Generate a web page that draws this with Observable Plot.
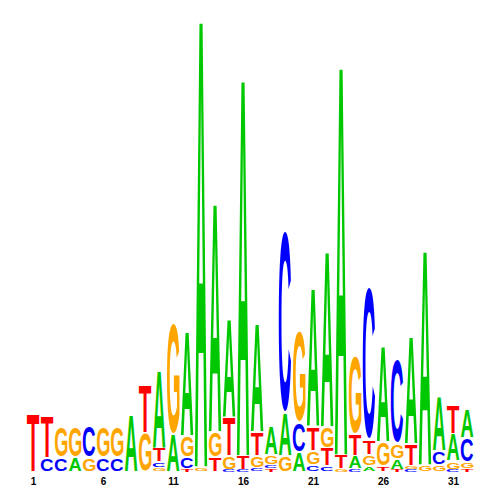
<!DOCTYPE html>
<html><head><meta charset="utf-8">
<script src="https://cdn.jsdelivr.net/npm/d3@7"></script>
<script src="https://cdn.jsdelivr.net/npm/@observablehq/plot@0.6"></script>
<style>body{margin:0;background:#fff;}</style>
</head><body><div id="chart"></div>
<script>
// Sequence logo: information content (bits) of each base at each position
const positions = d3.range(1, 33);
const heightA = [0,0,0,0.0625,0,0,0,0.254,0,0.344,0.165,0.464,1.982,1.013,0.4375,1.670,0.482,0.125,0.1875,0.085,0.612,0.777,1.723,0.058,0.027,0.424,0.049,0.473,0.951,0.241,0.122,0.125];
const heightC = [0,0.0625,0.0625,0,0.143,0.0625,0.0625,0,0,0.027,0,0.054,0,0,0.009,0.009,0.018,0.018,0.821,0.134,0.031,0.027,0,0.013,0.6875,0,0.379,0.009,0,0.0625,0.009,0.107];
const heightG = [0,0,0.138,0.138,0.0625,0.138,0.138,0,0.174,0.018,0.504,0.094,0.022,0.112,0.0625,0,0.054,0.045,0.071,0.415,0.0625,0.094,0.013,0.353,0.049,0.107,0.067,0.018,0.031,0.031,0.040,0.031];
const heightT = [0.259,0.183,0,0,0,0,0,0,0.210,0.0625,0,0.013,0,0.067,0.170,0.0625,0.107,0.013,0,0,0.107,0.080,0.0625,0.098,0.067,0.027,0.009,0.098,0,0,0.128,0.013];
const letters = ["A", "C", "G", "T"];
const letterColors = {A: "#00C800", C: "#0000FF", G: "#FFA500", T: "#FF0000"};
const tickLabels = [1, 6, 11, 16, 21, 26, 31];

const heights = {A: heightA, C: heightC, G: heightG, T: heightT};
const rows = [];
positions.forEach((p, i) => {
  const col = letters.map(l => [l, heights[l][i]]).filter(d => d[1] > 0).sort((a, b) => a[1] - b[1]);
  let y0 = 0;
  for (const [l, h] of col) { rows.push({pos: p, letter: l, y1: y0, y2: y0 + h}); y0 += h; }
});

const chart = Plot.plot({
  width: 500, height: 500,
  marginLeft: 26, marginRight: 26, marginTop: 24, marginBottom: 28,
  x: {domain: [0.5, 32.5]},
  y: {domain: [0, 2], axis: null},
  marks: [
    Plot.rect(rows, {x1: d => d.pos - 0.5, x2: d => d.pos + 0.5, y1: "y1", y2: "y2",
      fill: d => letterColors[d.letter], insetLeft: 0.7, insetRight: 0.7}),
    Plot.axisX(tickLabels, {tickSize: 0, tickPadding: 5, fontSize: 10, fontWeight: "bold", label: null,
      fontFamily: "Liberation Sans, Arial, sans-serif"})
  ]
});
document.getElementById("chart").appendChild(chart);

// Turn each rect into a stretched letter glyph filling the same box
const canvas = document.createElement("canvas");
const ctx = canvas.getContext("2d");
const fontFamily = "'Liberation Sans', Arial, sans-serif";
const FS = 1000;
ctx.font = `bold ${FS}px ${fontFamily}`;
const metrics = {};
for (const l of letters) {
  const m = ctx.measureText(l);
  metrics[l] = {left: m.actualBoundingBoxLeft, right: m.actualBoundingBoxRight,
    ascent: m.actualBoundingBoxAscent, descent: m.actualBoundingBoxDescent};
}
// flat-topped letters (A, T) reach only the cap height: round letters minus their overshoot
const capHeight = metrics.C.ascent - metrics.C.descent;
metrics.A.ascent = capHeight; metrics.A.descent = 0;
metrics.T.ascent = capHeight; metrics.T.descent = 0;

const g = chart.querySelector('g[aria-label="rect"]');
const rectEls = Array.from(g.querySelectorAll("rect"));
const NS = "http://www.w3.org/2000/svg";
rectEls.forEach((r, i) => {
  const d = rows[i];
  const m = metrics[d.letter];
  let x = +r.getAttribute("x"), y = +r.getAttribute("y");
  let w = +r.getAttribute("width"), h = +r.getAttribute("height");
  if (h > 4) { y += 0.9; h -= 1.8; }
  const sx = w / (m.left + m.right), sy = h / (m.ascent + m.descent);
  const t = document.createElementNS(NS, "text");
  t.textContent = d.letter;
  t.setAttribute("font-family", fontFamily);
  t.setAttribute("font-weight", "bold");
  t.setAttribute("font-size", FS);
  t.setAttribute("text-anchor", "start");
  t.setAttribute("fill", letterColors[d.letter]);
  t.setAttribute("transform", `translate(${x + m.left * sx},${y + m.ascent * sy}) scale(${sx},${sy})`);
  r.replaceWith(t);
});
</script>
</body></html>
